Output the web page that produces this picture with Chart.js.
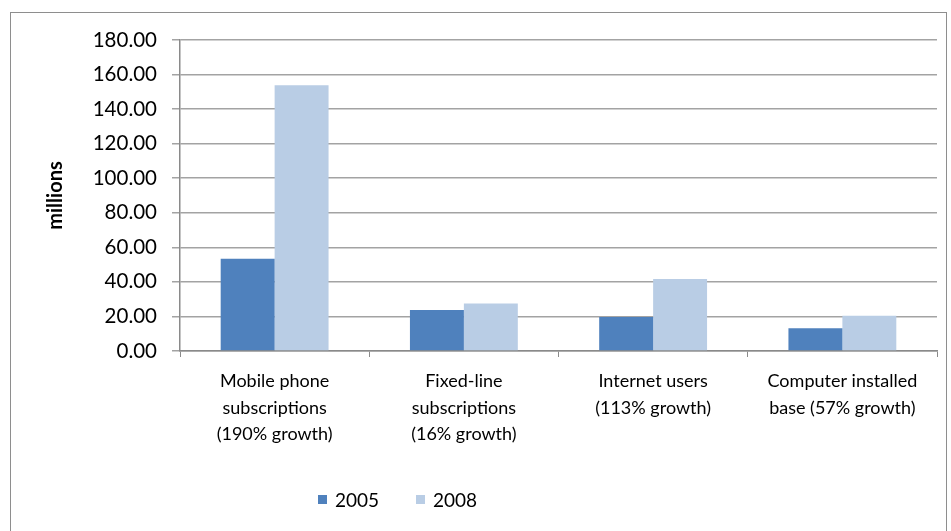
<!DOCTYPE html>
<html>
<head>
<meta charset="utf-8">
<script src="https://cdn.jsdelivr.net/npm/chart.js@4/dist/chart.umd.min.js"></script>
<style>
  body { margin: 0; background: #fff; }
  #wrap { position: relative; width: 951px; height: 531px; overflow: hidden; }
  #frame { position: absolute; left: 10px; top: 12px; width: 935px; height: 540px; border: 1px solid #8e8e8e; }
  #chartBox { position: absolute; left: 0; top: 0; width: 951px; height: 531px; }
  #legend { position: absolute; top: 488px; left: 0; width: 951px; height: 26px;
            font-family: Lato, sans-serif; font-size: 19px; color: #000; }
  #legend span.item { position: absolute; top: 0; display: flex; align-items: center; }
  #legend i { display: inline-block; width: 9px; height: 9px; margin-right: 8px; }
</style>
</head>
<body>
<div id="wrap">
  <div id="frame"></div>
  <div id="chartBox"><canvas id="grap1"></canvas></div>
  <div id="legend"></div>
</div>
<script>
var categories = [
    ["Mobile phone", "subscriptions", "(190% growth)"],
    ["Fixed-line", "subscriptions", "(16% growth)"],
    ["Internet users", "(113% growth)"],
    ["Computer installed", "base (57% growth)"]
];
var years = ["2005", "2008"];
var values2005 = [53.4, 23.7, 19.7, 13.2];
var values2008 = [153.8, 27.5, 41.6, 20.4];
var yTicks = [0, 20, 40, 60, 80, 100, 120, 140, 160, 180];

var colors = ['#4f81bd', '#b9cde5'];
var legendX = [318, 416];

// legend in html, built from the series names
var legend = document.getElementById('legend');
years.forEach(function (y, i) {
    var s = document.createElement('span');
    s.className = 'item';
    s.style.left = legendX[i] + 'px';
    s.innerHTML = '<i style="background:' + colors[i] + '"></i>' + y;
    legend.appendChild(s);
});

var ctx = document.getElementById('grap1').getContext('2d');
var chart = new Chart(ctx, {
    type: 'bar',
    data: {
        labels: categories,
        datasets: [
            {
                label: years[0],
                backgroundColor: colors[0],
                data: values2005,
                barPercentage: 1,
                categoryPercentage: 0.57
            },
            {
                label: years[1],
                backgroundColor: colors[1],
                data: values2008,
                barPercentage: 1,
                categoryPercentage: 0.57
            }
        ]
    },
    options: {
        responsive: true,
        maintainAspectRatio: false,
        animation: false,
        layout: {
            padding: { left: 0, top: 40, right: 14, bottom: 60 }
        },
        plugins: {
            legend: { display: false },
            tooltip: { enabled: false }
        },
        scales: {
            x: {
                grid: {
                    display: true,
                    drawOnChartArea: false,
                    offset: true,
                    tickLength: 6,
                    color: '#8a8a8a'
                },
                border: { color: '#8a8a8a', width: 1.5 },
                ticks: {
                    color: '#000',
                    padding: 11,
                    maxRotation: 0,
                    autoSkip: false,
                    font: { family: 'Lato, sans-serif', size: 18, lineHeight: 1.48 }
                },
                afterFit: function (scale) { scale.height = 120; }
            },
            y: {
                min: 0,
                max: 180,
                afterBuildTicks: function (scale) {
                    scale.ticks = yTicks.map(function (v) { return { value: v }; });
                },
                grid: {
                    color: '#a3a3a3',
                    lineWidth: 1.5,
                    tickLength: 8
                },
                border: { color: '#8a8a8a', width: 1.5 },
                ticks: {
                    color: '#000',
                    padding: 15,
                    font: { family: 'Lato, sans-serif', size: 20.5 },
                    callback: function (v) { return Number(v).toFixed(2); }
                },
                title: {
                    display: true,
                    text: 'millions',
                    color: '#000',
                    font: { family: 'Lato, sans-serif', size: 20, weight: 'bold' },
                    padding: { top: 44, bottom: 0 }
                },
                afterFit: function (scale) { scale.width = 180; }
            }
        }
    }
});
</script>
</body>
</html>
